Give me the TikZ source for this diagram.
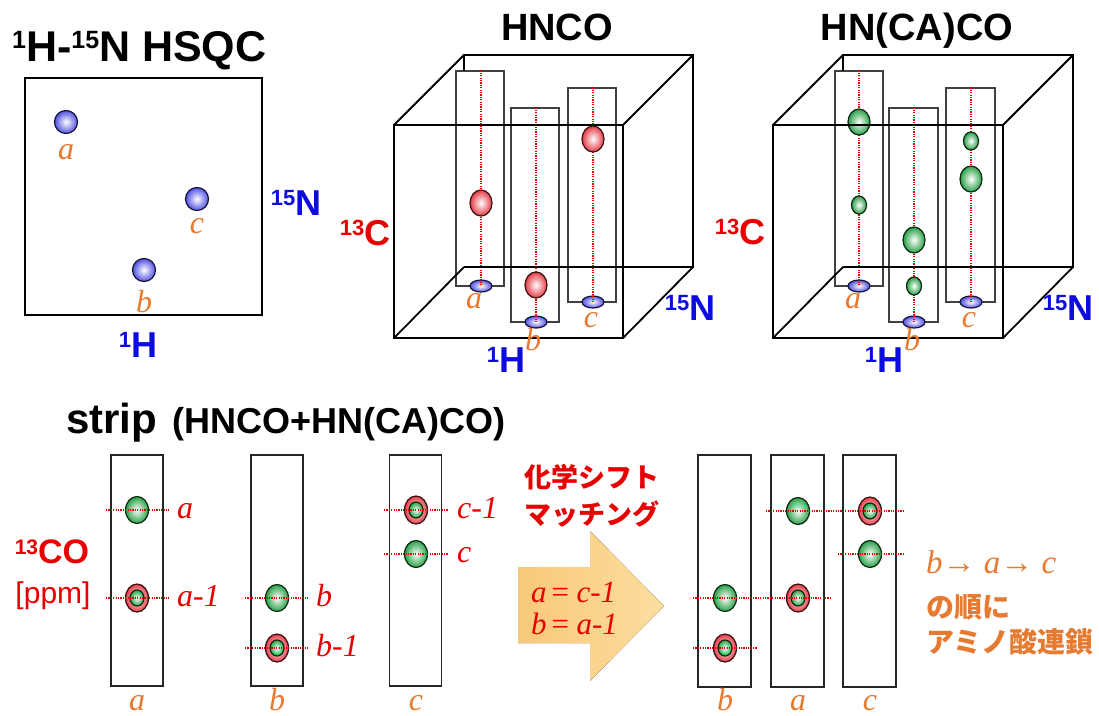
\documentclass[tikz,border=0pt]{standalone}
\usepackage{fontspec}
\setmainfont{Liberation Serif}
\setsansfont{Liberation Sans}
\newfontfamily\cjk{Noto Sans CJK JP}
\usetikzlibrary{shapes.geometric,shadings}
\definecolor{lblue}{RGB}{12,12,225}
\definecolor{lorange}{RGB}{230,122,48}
\definecolor{lred}{RGB}{232,0,0}
\definecolor{pkgreen}{RGB}{40,160,70}
\definecolor{pkblue}{RGB}{80,80,225}
\definecolor{pkred}{RGB}{228,60,70}
\definecolor{arrL}{RGB}{248,200,120}
\definecolor{arrR}{RGB}{252,222,160}
\newcommand{\isoax}[1]{\raisebox{10pt}{\fontsize{22}{22}\selectfont #1}}
\tikzset{
  cube/.style={line width=1.8pt, black, line join=miter},
  cstrip/.style={draw=black!75, line width=1.1pt, inner sep=0, minimum width=48},
  bstrip/.style={draw=black!85, line width=1.4pt, inner sep=0, minimum width=52, minimum height=231},
  dots/.style={draw=red!90!black, line width=1.2pt, dash pattern=on 1.2pt off 1.2pt},
  pk/.style={ellipse, inner sep=0, draw=#1!25!black, line width=1.2pt, inner color=white, outer color=#1},
  bigpk/.style={pk=#1, minimum width=22, minimum height=26},
  smallpk/.style={pk=#1, minimum width=15, minimum height=18},
  flatpk/.style={pk=pkblue, minimum width=22, minimum height=12},
  ballpk/.style={pk=pkblue, minimum width=23, minimum height=23},
  stpk/.style={pk=pkgreen, minimum width=23, minimum height=27},
  redring/.style={pk=pkred, minimum width=23, minimum height=28},
  innerg/.style={pk=pkgreen, minimum width=14, minimum height=16},
  olab/.style={font=\fontsize{32}{32}\selectfont\itshape, text=lorange, inner sep=0, anchor=base},
  rlab/.style={font=\fontsize{32}{32}\selectfont\itshape, text=lred, inner sep=0, anchor=base west},
  axlab/.style={font=\fontsize{36}{36}\selectfont\sffamily\bfseries, text=lblue, inner sep=0, anchor=base},
  redax/.style={font=\fontsize{36}{36}\selectfont\sffamily\bfseries, text=lred, inner sep=0, anchor=base},
  ttl/.style={font=\fontsize{38}{38}\selectfont\sffamily\bfseries, inner sep=0, anchor=base},
  jred/.style={font=\fontsize{27}{27}\selectfont\cjk\bfseries, text=lred, inner sep=0, anchor=base},
  jorg/.style={font=\fontsize{28}{28}\selectfont\cjk\bfseries, text=lorange, inner sep=0, anchor=base west},
}
\begin{document}
\begin{tikzpicture}[x=1pt,y=-1pt]
\useasboundingbox[fill=white] (0,0) rectangle (1099,715);

% ---------------- HSQC ----------------
\node[ttl, anchor=base west, font=\fontsize{43}{43}\selectfont\sffamily\bfseries] (thsqc) at (12,61) {\raisebox{13pt}{\fontsize{25}{25}\selectfont 1}H-\raisebox{13pt}{\fontsize{25}{25}\selectfont 15}N HSQC};
\node[draw, line width=1.6pt, inner sep=0, minimum width=237, minimum height=237] (hbox) at (143.5,196.5) {};
\node[ballpk] (ha) at (66,122) {};
\node[ballpk] (hc) at (197,199) {};
\node[ballpk] (hb) at (144,270) {};
\node[olab] (hla) at (66,159) {a};
\node[olab] (hlc) at (197,233) {c};
\node[olab] (hlb) at (144,312) {b};
\node[axlab] (hN) at (296,215) {\isoax{15}N};
\node[axlab] (hH) at (138,357) {\isoax{1}H};

% ---------------- HNCO ----------------
\node[ttl] (thnco) at (557,40) {HNCO};
\node[cstrip, minimum height=215] (s1a) at (480,178.5) {};
\node[cstrip, minimum height=214] (s1b) at (535,215) {};
\node[cstrip, minimum height=214] (s1c) at (592,195) {};
\node[flatpk] (b1a) at (481,286) {};
\node[flatpk] (b1b) at (536,322) {};
\node[flatpk] (b1c) at (593,302) {};
\draw[dots] (s1a.north -| b1a) -- (b1a.center);
\draw[dots] (s1b.north -| b1b) -- (b1b.center);
\draw[dots] (s1c.north -| b1c) -- (b1c.center);
\node[bigpk=pkred] (r1a) at (481,203) {};
\node[bigpk=pkred] (r1b) at (536,285) {};
\node[bigpk=pkred] (r1c) at (593,139) {};
\draw[cube] (394,125) rectangle (623,338);
\draw[cube] (464,71) -- (464,55) -- (693,55) -- (693,267) -- (464,267);
\draw[cube] (394,125) -- (464,55) (623,125) -- (693,55) (623,338) -- (693,267) (394,338) -- (464,267);
\node[olab] (l1a) at (474,308) {a};
\node[olab] (l1b) at (533,350) {b};
\node[olab] (l1c) at (591,327) {c};
\node[redax] (c1) at (365,245) {\isoax{13}C};
\node[axlab] (n1) at (690,320) {\isoax{15}N};
\node[axlab] (h1) at (506,372) {\isoax{1}H};

% ---------------- HN(CA)CO ----------------
\node[ttl] (thncaco) at (917,40) {HN(CA)CO};
\node[cstrip, minimum height=215] (s2a) at (859,178.5) {};
\node[cstrip, minimum height=214, minimum width=49] (s2b) at (913.5,215) {};
\node[cstrip, minimum height=214, minimum width=49] (s2c) at (970.5,195) {};
\node[flatpk] (b2a) at (859,286) {};
\node[flatpk] (b2b) at (914,322) {};
\node[flatpk] (b2c) at (971,302) {};
\draw[dots] (s2a.north -| b2a) -- (b2a.center);
\draw[dots] (s2b.north -| b2b) -- (b2b.center);
\draw[dots] (s2c.north -| b2c) -- (b2c.center);
\node[bigpk=pkgreen] (g2a1) at (859,122) {};
\node[smallpk=pkgreen] (g2a2) at (859,205) {};
\node[bigpk=pkgreen] (g2b1) at (914,240) {};
\node[smallpk=pkgreen] (g2b2) at (914,286) {};
\node[smallpk=pkgreen] (g2c1) at (971,141) {};
\node[bigpk=pkgreen] (g2c2) at (971,179) {};
\draw[cube] (773,125) rectangle (1003,338);
\draw[cube] (843,71) -- (843,55) -- (1073,55) -- (1073,267) -- (843,267);
\draw[cube] (773,125) -- (843,55) (1003,125) -- (1073,55) (1003,338) -- (1073,267) (773,338) -- (843,267);
\node[olab] (l2a) at (853,308) {a};
\node[olab] (l2b) at (912,350) {b};
\node[olab] (l2c) at (969,327) {c};
\node[redax] (c2) at (740,244) {\isoax{13}C};
\node[axlab] (n2) at (1068,320) {\isoax{15}N};
\node[axlab] (h2) at (884,372) {\isoax{1}H};

% ---------------- strips (left) ----------------
\node[inner sep=0, anchor=base west, font=\fontsize{42}{42}\selectfont\sffamily\bfseries] (tstrip) at (66,433) {strip};
\node[inner sep=0, anchor=base west, font=\fontsize{36}{36}\selectfont\sffamily\bfseries] (tpar) at (172,433) {(HNCO+HN(CA)CO)};
\node[inner sep=0, anchor=base, text=lred, font=\fontsize{34}{34}\selectfont\sffamily\bfseries] (tco) at (52,563) {\raisebox{9pt}{\fontsize{21}{21}\selectfont 13}CO};
\node[inner sep=0, anchor=base, text=lred, font=\fontsize{30}{30}\selectfont\sffamily] (tppm) at (53,603) {[ppm]};

\node[bstrip] (sa) at (137,570.5) {};
\node[bstrip] (sb) at (277,570.5) {};
\node[bstrip] (sc) at (415.5,570.5) {};
\node[stpk] (pa1) at (137,510) {};
\node[redring] (pa2) at (137,598) {};
\node[innerg] (pa2i) at (137,598) {};
\node[stpk] (pb1) at (277,598) {};
\node[redring] (pb2) at (277,648) {};
\node[innerg] (pb2i) at (277,648) {};
\node[redring] (pc1) at (416,510) {};
\node[innerg] (pc1i) at (416,510) {};
\node[stpk] (pc2) at (416,554) {};
\draw[dots] ([xshift=-31]pa1.center) -- ([xshift=32]pa1.center);
\draw[dots] ([xshift=-31]pa2.center) -- ([xshift=32]pa2.center);
\draw[dots] ([xshift=-32]pb1.center) -- ([xshift=31]pb1.center);
\draw[dots] ([xshift=-32]pb2.center) -- ([xshift=31]pb2.center);
\draw[dots] ([xshift=-32]pc1.center) -- ([xshift=32]pc1.center);
\draw[dots] ([xshift=-32]pc2.center) -- ([xshift=32]pc2.center);
\node[rlab] (la1) at (177,518) {a};
\node[rlab] (la2) at (177,606) {a-1};
\node[rlab] (lb1) at (316,606) {b};
\node[rlab] (lb2) at (316,656) {b-1};
\node[rlab] (lc1) at (457,518) {c-1};
\node[rlab] (lc2) at (457,562) {c};
\node[olab] (ba) at (137,710) {a};
\node[olab] (bb) at (277,710) {b};
\node[olab] (bc) at (416,710) {c};

% ---------------- matching arrow ----------------
\node[jred] (j1) at (592,487) {化学シフト};
\node[jred] (j2) at (592,524) {マッチング};
\fill[left color=arrL, right color=arrR] (518,567) -- (590,567) -- (590,531) -- (664,606) -- (590,681) -- (590,643) -- (518,643) -- cycle;
\node[inner sep=0, anchor=base west, text=lred, font=\fontsize{31}{31}\selectfont\itshape] (eq1) at (531,602) {a\hspace{3pt}=\hspace{6pt}c-1};
\node[inner sep=0, anchor=base west, text=lred, font=\fontsize{31}{31}\selectfont\itshape] (eq2) at (531,634) {b\hspace{3pt}=\hspace{6pt}a-1};

% ---------------- strips (right) ----------------
\node[bstrip, minimum width=53, minimum height=232] (rb) at (724.5,571) {};
\node[bstrip, minimum width=53, minimum height=232] (ra) at (797.5,571) {};
\node[bstrip, minimum width=53, minimum height=232] (rc) at (869.5,571) {};
\node[stpk] (qb1) at (725,598) {};
\node[redring] (qb2) at (725,648) {};
\node[innerg] (qb2i) at (725,648) {};
\node[stpk] (qa1) at (798,511) {};
\node[redring] (qa2) at (798,598) {};
\node[innerg] (qa2i) at (798,598) {};
\node[redring] (qc1) at (870,511) {};
\node[innerg] (qc1i) at (870,511) {};
\node[stpk] (qc2) at (870,554) {};
\draw[dots] ([xshift=-32]qa1.center) -- ([xshift=33]qc1.center);
\draw[dots] ([xshift=-32]qc2.center) -- ([xshift=33]qc2.center);
\draw[dots] ([xshift=-32]qb1.center) -- ([xshift=33]qa2.center);
\draw[dots] ([xshift=-32]qb2.center) -- ([xshift=32]qb2.center);
\node[olab] (rlb) at (725,710) {b};
\node[olab] (rla) at (798,710) {a};
\node[olab] (rlc) at (870,710) {c};

\node[inner sep=0, anchor=base west, text=lorange, font=\fontsize{33}{33}\selectfont\itshape] (chain) at (926,573) {b→ a→ c};
\node[jorg] (jo1) at (926,617) {の順に};
\node[jorg] (jo2) at (926,652) {アミノ酸連鎖};
\end{tikzpicture}
\end{document}
